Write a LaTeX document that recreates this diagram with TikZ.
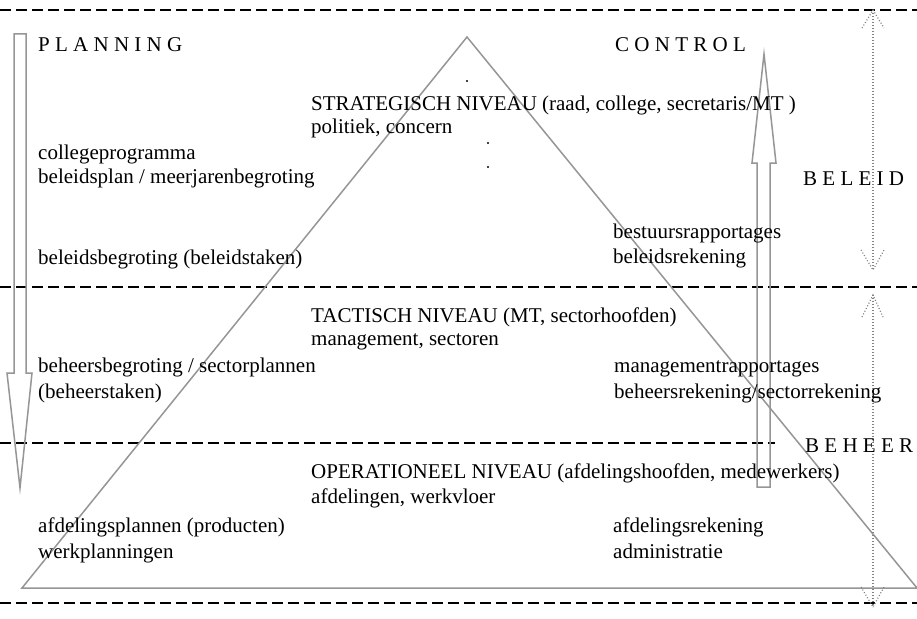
\documentclass[tikz,border=0pt]{standalone}
\usepackage{fontspec}
\setmainfont{Liberation Serif}
\definecolor{gline}{RGB}{150,150,150}
\definecolor{gdot}{RGB}{130,130,130}
\begin{document}
\begin{tikzpicture}[x=1pt,y=-1pt,
  txt/.style={anchor=base west, inner sep=0pt, font=\fontsize{21}{25}\selectfont},
  level/.style={draw=black, line width=1.3pt, dash pattern=on 11pt off 5pt},
  outline/.style={draw=gline, line width=1.5pt, line join=miter},
  span/.style={draw=gdot, line width=1.2pt, dash pattern=on 1pt off 2pt},
]
\fill[white] (0,0) rectangle (917,618);
\useasboundingbox (0,0) rectangle (917,618);

% level separators
\draw[level] (0,10) -- (917,10);
\draw[level] (0,287) -- (917,287);
\draw[level] (0,443) -- (775,443);
\draw[level] (0,603) -- (917,603);

% the organisation pyramid
\coordinate (apex) at (467,37);
\coordinate (bl) at (22,588);
\coordinate (br) at (917,588);
\draw[outline] (apex) -- (bl) -- (br) -- cycle;

% planning: hollow arrow pointing down
\draw[outline] (14,34) -- (14,373) -- (7,373) -- (20,488) -- (32,373)
  -- (26,373) -- (26,34) -- cycle;

% control: hollow arrow pointing up
\draw[outline] (757,487) -- (757,163) -- (752,163) -- (764,54) -- (776,163)
  -- (770,163) -- (770,487) -- cycle;

% dotted double arrows for beleid and beheer
\coordinate (b1t) at (873,10);
\coordinate (b1b) at (873,270);
\coordinate (b2t) at (873,295);
\coordinate (b2b) at (873,607);
\draw[span] (b1t) -- (b1b);
\draw[span] (862,28) -- (b1t) -- (884,28);
\draw[span] (861,250) -- (b1b) -- (884,250);
\draw[span] (b2t) -- (b2b);
\draw[span] (862,317) -- (b2t) -- (883,317);
\draw[span] (861,587) -- (b2b) -- (884,587);

% small dots
\fill (467,81) circle (1.1);
\fill (488,143) circle (1.1);
\fill (488,167) circle (1.1);

% headings
\node[txt] (planning) at (38,52) {P L A N N I N G};
\node[txt] (control) at (615,52) {C O N T R O L};
\node[txt] (beleid) at (803,185) {B E L E I D};
\node[txt] (beheer) at (805,452) {B E H E E R};

% strategic level
\node[txt] (strat) at (311,110) {STRATEGISCH NIVEAU (raad, college, secretaris/MT )};
\node[txt] (strat2) at (311,133) {politiek, concern};
\node[txt] (cp) at (38,159) {collegeprogramma};
\node[txt] (bp) at (38,183) {beleidsplan / meerjarenbegroting};
\node[txt] (bb) at (38,264) {beleidsbegroting (beleidstaken)};
\node[txt] (br1) at (613,238) {bestuursrapportages};
\node[txt] (br2) at (613,263) {beleidsrekening};

% tactical level
\node[txt] (tact) at (311,322) {TACTISCH NIVEAU (MT, sectorhoofden)};
\node[txt] (tact2) at (311,345) {management, sectoren};
\node[txt] (hb1) at (38,372) {beheersbegroting / sectorplannen};
\node[txt] (hb2) at (38,398) {(beheerstaken)};
\node[txt] (mr1) at (614,372) {managementrapportages};
\node[txt] (mr2) at (614,398) {beheersrekening/sectorrekening};

% operational level
\node[txt] (oper) at (311,478) {OPERATIONEEL NIVEAU (afdelingshoofden, medewerkers)};
\node[txt] (oper2) at (311,503) {afdelingen, werkvloer};
\node[txt] (ap1) at (38,532) {afdelingsplannen (producten)};
\node[txt] (ap2) at (38,558) {werkplanningen};
\node[txt] (ar1) at (613,532) {afdelingsrekening};
\node[txt] (ar2) at (613,558) {administratie};
\end{tikzpicture}
\end{document}
